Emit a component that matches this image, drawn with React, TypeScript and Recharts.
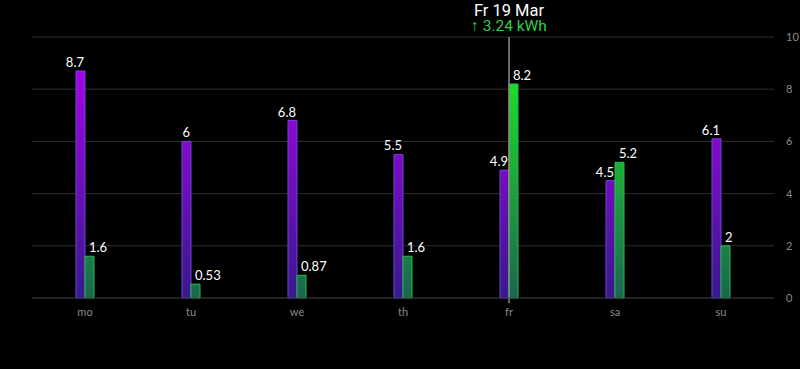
import React from "react";
import { BarChart, Bar, XAxis, YAxis, CartesianGrid, ReferenceLine, LabelList } from "recharts";

const categories = ["mo", "tu", "we", "th", "fr", "sa", "su"];
const consumption = [8.7, 6, 6.8, 5.5, 4.9, 4.5, 6.1];
const production = [1.6, 0.53, 0.87, 1.6, 8.2, 5.2, 2];
const yTicks = [0, 2, 4, 6, 8, 10];
const activeCategory = "fr";
const activeTitle = "Fr 19 Mar";
const activeValue = "3.24 kWh";

const data = categories.map((c, i) => ({ name: c, a: consumption[i], b: production[i] }));

const TOP = 37;
const BOTTOM = 298;

const PurpleLabel = (props: any) => {
  const { x, y, width, value } = props;
  return (
    <text x={x + width - 1} y={y - 4} textAnchor="end" fill="#ffffff" fontSize={13} fontFamily="Lato">
      {value}
    </text>
  );
};
const GreenLabel = (props: any) => {
  const { x, y, value } = props;
  return (
    <text x={x + 4} y={y - 4} textAnchor="start" fill="#ffffff" fontSize={13} fontFamily="Lato">
      {value}
    </text>
  );
};

const CursorLabel = (props: any) => {
  const vb = props.viewBox || {};
  const x = vb.x ?? 0;
  return (
    <g>
      <text x={x} y={16} textAnchor="middle" fill="#ffffff" fontSize={16.5} fontFamily="Roboto">
        {activeTitle}
      </text>
      <text x={x} y={31} textAnchor="middle" fill="#2fd04a" fontSize={15.5} fontFamily="Roboto">
        <tspan fontWeight="bold">{"\u2191"}</tspan>
        <tspan>{" " + activeValue}</tspan>
      </text>
    </g>
  );
};

export default function App() {
  return (
    <div style={{ position: "absolute", left: 0, top: 0, width: 800, height: 369, background: "#000" }}>
      <BarChart
        width={800}
        height={369}
        data={data}
        margin={{ top: TOP, right: 0, bottom: 369 - BOTTOM - 30, left: 32 }}
        barSize={9}
        barGap={0}
      >
        <defs>
          <linearGradient id="gPurple" gradientUnits="userSpaceOnUse" x1="0" y1={TOP} x2="0" y2={BOTTOM}>
            <stop offset="0%" stopColor="#b400f4" />
            <stop offset="100%" stopColor="#361a8c" />
          </linearGradient>
          <linearGradient id="gGreen" gradientUnits="userSpaceOnUse" x1="0" y1={TOP} x2="0" y2={BOTTOM}>
            <stop offset="0%" stopColor="#20f420" />
            <stop offset="100%" stopColor="#1a6650" />
          </linearGradient>
        </defs>
        <CartesianGrid vertical={false} stroke="#2e2e2e" />
        <XAxis
          dataKey="name"
          axisLine={{ stroke: "#2e2e2e" }}
          tickLine={false}
          tick={{ fill: "#8a8a8a", fontSize: 11, fontFamily: "Lato" }}
          tickMargin={4}
        />
        <YAxis
          orientation="right"
          domain={[0, 10]}
          ticks={yTicks}
          axisLine={false}
          tickLine={false}
          tick={{ fill: "#8a8a8a", fontSize: 11, fontFamily: "Lato", textAnchor: "start" }}
          width={26}
          tickMargin={6}
        />
        <Bar dataKey="a" fill="url(#gPurple)" stroke="#7440d8" strokeWidth={1} isAnimationActive={false}>
          <LabelList dataKey="a" content={PurpleLabel} />
        </Bar>
        <Bar dataKey="b" fill="url(#gGreen)" stroke="#2cb850" strokeWidth={1} isAnimationActive={false}>
          <LabelList dataKey="b" content={GreenLabel} />
        </Bar>
        <ReferenceLine
          segment={[{ x: activeCategory, y: 10 }, { x: activeCategory, y: -0.2 }]}
          stroke="#8a8a8a"
          strokeWidth={1.5}
          ifOverflow="visible"
        />
        <ReferenceLine x={activeCategory} stroke="none" label={<CursorLabel />} ifOverflow="visible" />
      </BarChart>
    </div>
  );
}
